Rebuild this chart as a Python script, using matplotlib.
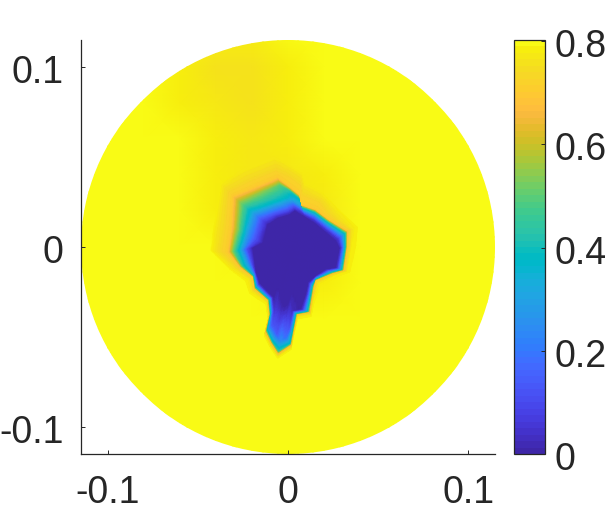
import numpy as np
import matplotlib
matplotlib.use("Agg")
import matplotlib.pyplot as plt
from matplotlib.colors import ListedColormap
from matplotlib.patches import Circle
from matplotlib.transforms import ScaledTranslation

PARULA = [
[0.2422,0.1504,0.6603],[0.2504,0.1650,0.7076],[0.2578,0.1818,0.7511],[0.2647,0.1978,0.7952],
[0.2706,0.2147,0.8364],[0.2751,0.2342,0.8710],[0.2783,0.2559,0.8991],[0.2803,0.2782,0.9221],
[0.2813,0.3006,0.9414],[0.2810,0.3228,0.9579],[0.2795,0.3447,0.9717],[0.2760,0.3667,0.9829],
[0.2699,0.3892,0.9906],[0.2602,0.4123,0.9952],[0.2440,0.4358,0.9988],[0.2206,0.4603,0.9973],
[0.1963,0.4847,0.9892],[0.1834,0.5074,0.9798],[0.1786,0.5289,0.9682],[0.1764,0.5499,0.9520],
[0.1687,0.5703,0.9359],[0.1540,0.5902,0.9218],[0.1460,0.6091,0.9079],[0.1380,0.6276,0.8973],
[0.1248,0.6459,0.8883],[0.1113,0.6635,0.8763],[0.0952,0.6798,0.8598],[0.0689,0.6948,0.8394],
[0.0297,0.7082,0.8163],[0.0036,0.7203,0.7917],[0.0067,0.7312,0.7660],[0.0433,0.7411,0.7394],
[0.0964,0.7500,0.7120],[0.1408,0.7584,0.6842],[0.1717,0.7670,0.6554],[0.1938,0.7758,0.6251],
[0.2161,0.7843,0.5923],[0.2470,0.7918,0.5567],[0.2906,0.7973,0.5188],[0.3406,0.8008,0.4789],
[0.3909,0.8029,0.4354],[0.4456,0.8024,0.3909],[0.5044,0.7993,0.3480],[0.5616,0.7942,0.3045],
[0.6174,0.7876,0.2612],[0.6720,0.7793,0.2227],[0.7242,0.7698,0.1910],[0.7738,0.7598,0.1646],
[0.8203,0.7498,0.1535],[0.8634,0.7406,0.1596],[0.9035,0.7330,0.1774],[0.9393,0.7288,0.2100],
[0.9728,0.7298,0.2394],[0.9956,0.7434,0.2371],[0.9970,0.7659,0.2199],[0.9952,0.7861,0.1990],
[0.9892,0.8050,0.1761],[0.9790,0.8239,0.1633],[0.9696,0.8439,0.1475],[0.9626,0.8643,0.1293],
[0.9595,0.8860,0.1064],[0.9628,0.9095,0.0816],[0.9691,0.9336,0.0547],[0.9769,0.9839,0.0805]]

# Background field on a coarse grid (rows from y=+0.12 down to y=-0.12)
bg_x = [-.12,-.10,-.08,-.06,-.04,-.02,0,.02,.04,.06,.08,.10,.12]
bg_y = [.12,.10,.08,.06,.04,.02,0,-.02,-.04,-.06,-.08,-.10,-.12]
bg_values = [
[.795,.795,.795,.795,.785,.780,.790,.797,.800,.800,.800,.800,.800],
[.795,.795,.795,.787,.762,.760,.787,.797,.800,.801,.801,.800,.800],
[.795,.795,.792,.782,.765,.760,.783,.800,.801,.802,.801,.800,.800],
[.795,.795,.795,.790,.778,.775,.787,.800,.802,.802,.800,.800,.800],
[.795,.795,.795,.792,.785,.770,.765,.780,.797,.800,.800,.799,.799],
[.795,.795,.795,.793,.785,.775,.770,.775,.790,.798,.800,.799,.798],
[.795,.795,.795,.795,.790,.780,.770,.780,.790,.797,.799,.798,.797],
[.795,.795,.795,.795,.793,.790,.785,.787,.793,.797,.798,.797,.796],
[.795,.795,.795,.795,.795,.795,.792,.793,.795,.796,.796,.796,.795],
[.795,.795,.795,.795,.795,.795,.795,.795,.795,.795,.795,.795,.795],
[.795,.795,.795,.795,.795,.795,.795,.795,.795,.795,.795,.795,.795],
[.795,.795,.795,.795,.795,.795,.795,.795,.795,.795,.795,.795,.795],
[.795,.795,.795,.795,.795,.795,.795,.795,.795,.795,.795,.795,.795]]

# Low-value region: outline nodes and inner core nodes (units of 1e-3)
edge_x = [-5.9,0.2,5.7,6.6,14.9,22.3,32.8,32.5,30.6,25.1,14.9,14.0,13.1,11.8,4.8,2.6,1.5,-5.4,-9.0,-12.2,-10.0,-10.9,-18.3,-19.2,-26.6,-33.0,-31.2,-30.3,-19.2]
edge_y = [38.0,33.4,28.8,23.2,20.5,14.9,8.5,0.2,-12.7,-14.2,-18.3,-22.0,-27.5,-35.8,-37.1,-47.8,-54.2,-58.9,-53.3,-46.9,-37.6,-29.3,-22.9,-16.4,-10.9,-2.6,11.3,27.9,32.5]
core_x = [1.1,3.9,6.6,9.4,14.0,19.6,26.0,27.9,26.0,20.5,14.9,10.7,9.4,6.6,2.0,0.2,-1.7,-4.4,-5.9,-7.7,-7.2,-7.7,-15.1,-17.3,-18.3,-19.2,-13.7,-10.9,-5.4]
core_y = [17.7,19.6,17.7,15.9,13.1,8.5,3.0,-0.7,-10.9,-11.8,-15.5,-19.2,-25.6,-33.9,-34.9,-44.1,-49.6,-51.5,-47.8,-42.2,-34.9,-27.5,-19.7,-13.7,-7.2,-0.7,2.0,12.2,15.9]
centre_xy = [1.1,-5.4]

# Field values across the region at each outline node, and width of the soft halo (units of 1e-3)
halo_w = [6,6,6,6,5,4,3,2.5,2,2,2,2,1.5,1.5,1.5,1.5,1.5,1.5,1.5,1.5,1.5,1.5,2,2.5,3,5,5,5,6]
halo_v = [.74,.73,.73,.73,.73,.75,.77,.78,.78,.78,.77,.77,.78,.78,.78,.78,.78,.78,.78,.78,.78,.78,.77,.77,.76,.74,.74,.74,.74]
edge_v = [.70]*29
band_a = [.50,.42,.38,.42,.42,.42,.42,.42,.42,.42,.42,.42,.42,.42,.42,.40,.40,.45,.40,.40,.40,.42,.42,.42,.42,.52,.54,.55,.54]
band_b = [.38,.32,.28,.18,.18,.18,.18,.18,.18,.18,.18,.18,.18,.18,.22,.25,.30,.35,.28,.22,.20,.18,.18,.22,.28,.30,.25,.33,.38]
band_c = [.18,.14,.08,.05,.05,.05,.05,.05,.05,.05,.05,.05,.05,.05,.08,.14,.22,.30,.20,.14,.10,.05,.05,.07,.10,.10,.10,.13,.18]
core_v = [.005,.005,.005,.005,.005,.005,.005,.005,.005,.005,.005,.005,.005,.005,.03,.12,.18,.25,.14,.12,.06,.01,.005,.005,.005,.01,.01,.01,.005]
neck_v = .003
centre_v = .002

xy_ticks = [-0.1, 0, 0.1]
xy_labels = ['-0.1', '0', '0.1']
cbar_ticks = [0, 0.2, 0.4, 0.6, 0.8]
cbar_labels = ['0', '0.2', '0.4', '0.6', '0.8']
radius = 0.1147
vmax = 0.802

plt.rcParams['font.family'] = ['Liberation Sans', 'DejaVu Sans']
W, H = 606, 517
fig = plt.figure(figsize=(W/100, H/100), dpi=100)
ax = fig.add_axes([81/W, 1-454/H, 414/W, 414/H])
cmap = ListedColormap(PARULA)
TXT = '#262626'

clip = Circle((0, 0), radius, transform=ax.transData)
m0 = ax.pcolormesh(*np.meshgrid(bg_x, bg_y), np.array(bg_values), shading='gouraud',
                   cmap=cmap, vmin=0, vmax=vmax, zorder=1)
m0.set_clip_path(clip)

# Curvilinear mesh for the low-value region
ex, ey = np.array(edge_x)*1e-3, np.array(edge_y)*1e-3
cx, cy = np.array(core_x)*1e-3, np.array(core_y)*1e-3
ox, oy = centre_xy[0]*1e-3, centre_xy[1]*1e-3
rad = np.hypot(ex-ox, ey-oy)
ux, uy = (ex-ox)/rad, (ey-oy)/rad
hw = np.array(halo_w)*1e-3

def bg_at(x, y):
    gx, gy = np.array(bg_x), np.array(bg_y)[::-1]
    g = np.array(bg_values)[::-1]
    i = np.clip(np.searchsorted(gx, x)-1, 0, len(gx)-2)
    j = np.clip(np.searchsorted(gy, y)-1, 0, len(gy)-2)
    fx, fy = (x-gx[i])/(gx[i+1]-gx[i]), (y-gy[j])/(gy[j+1]-gy[j])
    return (g[j, i]*(1-fx)*(1-fy)+g[j, i+1]*fx*(1-fy)+g[j+1, i]*(1-fx)*fy+g[j+1, i+1]*fx*fy)

outer_v = bg_at(ex+ux*2*hw, ey+uy*2*hw)
n = len(ex)
t_ctrl = np.array([-2, -1, 0, .2, .55, .8, 1, 1.4, 2])
V_ctrl = np.array([outer_v, np.minimum(halo_v, outer_v), edge_v, band_a, band_b, band_c, core_v, [neck_v]*n, [centre_v]*n], float)

def ring_xy(t):
    if t <= 0:
        d = -t*hw
        return ex+ux*d, ey+uy*d
    if t <= 1:
        return ex+t*(cx-ex), ey+t*(cy-ey)
    return cx+(t-1)*(ox-cx), cy+(t-1)*(oy-cy)

t_fine = np.unique(np.concatenate([np.linspace(t_ctrl[i], t_ctrl[i+1], 9) for i in range(len(t_ctrl)-1)]))
s = np.arange(n+1)
s_f = np.linspace(0, n, n*4+1)
def close_interp(a):
    return np.interp(s_f, s, np.r_[a, a[0]])
X, Y, C = [], [], []
for t in t_fine:
    rx, ry = ring_xy(t)
    v = np.array([np.interp(t, t_ctrl, V_ctrl[:, j]) for j in range(n)])
    X.append(close_interp(rx)); Y.append(close_interp(ry)); C.append(close_interp(v))
m1 = ax.pcolormesh(np.array(X), np.array(Y), np.array(C), shading='gouraud',
                   cmap=cmap, vmin=0, vmax=vmax, zorder=2)
m1.set_clip_path(Circle((0, 0), radius, transform=ax.transData))

ax.set_xlim(-radius, radius)
ax.set_ylim(-radius, radius)
ax.set_aspect('equal')
for side in ('top', 'right'):
    ax.spines[side].set_visible(False)
for side in ('left', 'bottom'):
    ax.spines[side].set_color(TXT)
    ax.spines[side].set_linewidth(0.9)
ax.set_xticks(xy_ticks, xy_labels)
ax.set_yticks(xy_ticks, xy_labels)
ax.tick_params(direction='in', length=3, width=0.7, color=TXT, labelcolor=TXT, labelsize=27)
ax.tick_params(axis='x', pad=15)
ax.tick_params(axis='y', pad=12.5)
ax.patch.set_alpha(0)

down = ScaledTranslation(0, -2/100, fig.dpi_scale_trans)
for lab in ax.get_yticklabels():
    lab.set_transform(lab.get_transform()+down)

cax = fig.add_axes([513.5/W, 1-454/H, 31/W, 414/H])
cb = fig.colorbar(m1, cax=cax, ticks=cbar_ticks)
cb.ax.set_yticklabels(cbar_labels)
cb.outline.set_edgecolor(TXT)
cb.outline.set_linewidth(0.9)
cb.ax.tick_params(direction='in', length=3, width=0.7, color=TXT, labelcolor=TXT, labelsize=27, pad=7.5)
for lab in cb.ax.get_yticklabels():
    lab.set_transform(lab.get_transform()+down)

fig.savefig('out.png', dpi=100)
